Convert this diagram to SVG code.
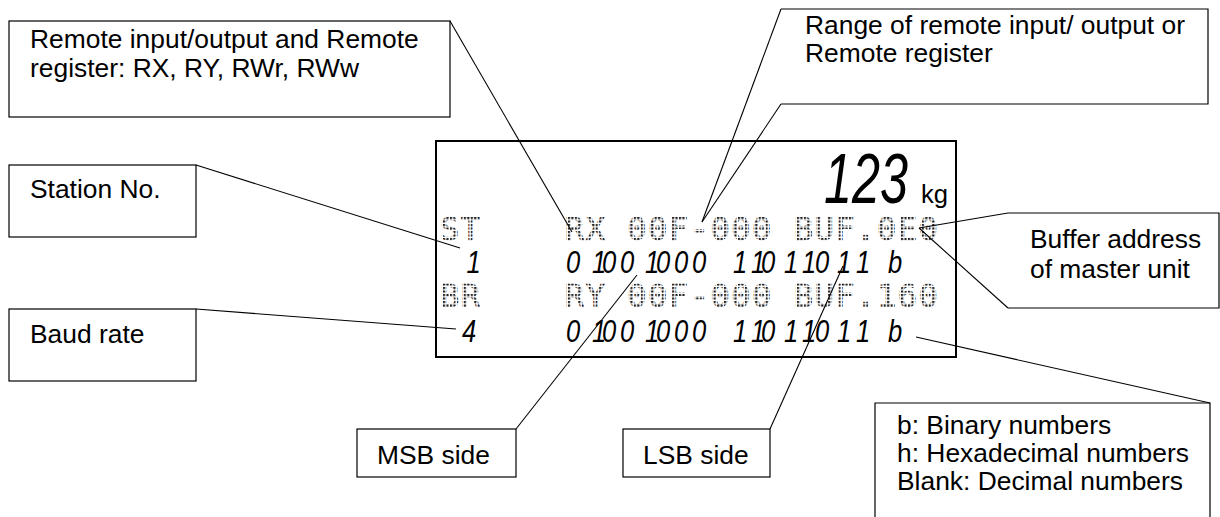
<svg xmlns="http://www.w3.org/2000/svg" width="1220" height="517" viewBox="0 0 1220 517">
<style>
.lbl{font-family:"Liberation Sans",Arial,sans-serif;font-size:26.4px;fill:#000}
.box{fill:none;stroke:#000;stroke-width:1.2}
.con{stroke:#000;stroke-width:1.1;fill:none}
.dm{font-family:"DejaVu Sans Mono",monospace;font-size:32px;letter-spacing:1.54px;fill:url(#dots);stroke:url(#dots);stroke-width:0.9;white-space:pre}
.seg{font-family:"Liberation Sans",Arial,sans-serif;font-style:italic;font-size:32px;fill:#000;white-space:pre}
</style>
<defs>
<pattern id="dots" patternUnits="userSpaceOnUse" x="443" y="217" width="3.47" height="3.5">
<rect width="2.1" height="2.1" fill="#222"/>
</pattern>
</defs>
<rect width="1220" height="517" fill="#fff"/>

<g id="display">
<rect x="436" y="141" width="520" height="216" fill="none" stroke="#000" stroke-width="2"/>
<text class="seg" x="824" y="203" textLength="84" lengthAdjust="spacingAndGlyphs" style="font-size:71px">123</text>
<text class="lbl" x="921" y="203" style="font-size:25.6px">kg</text>
<text class="dm" x="440" y="240">ST    RX 00F-000 BUF.0E0</text>
<text class="dm" x="440" y="307">BR    RY 00F-000 BUF.160</text>
<g transform="scale(0.8,1)">
<text class="seg" x="583" y="273">1</text>
<text class="seg" x="707.5 740 752.5 775 806.25 820 842.5 865 887.5 916.25 938.75 951.25 980 1002.5 1018.75 1046.25 1070 1090 1110" y="273">01001000 11011011 b</text>
<text class="seg" x="577.5" y="342">4</text>
<text class="seg" x="707.5 740 752.5 775 806.25 820 842.5 865 887.5 916.25 938.75 951.25 980 1002.5 1018.75 1046.25 1070 1090 1110" y="342">01001000 11011011 b</text>
</g>
</g>

<g id="remote-io">
<rect class="box" x="9" y="21" width="441" height="96"/>
<text class="lbl" x="30" y="48">Remote input/output and Remote</text>
<text class="lbl" x="30" y="77">register: RX, RY, RWr, RWw</text>
</g>

<g id="range">
<path class="box" d="M781,9 H1208 V104 H781"/>
<text class="lbl" x="805" y="34">Range of remote input/ output or</text>
<text class="lbl" x="805" y="62">Remote register</text>
</g>

<g id="station">
<rect class="box" x="9" y="165" width="187" height="72"/>
<text class="lbl" x="30" y="198">Station No.</text>
</g>

<g id="baud">
<rect class="box" x="9" y="309" width="187" height="72"/>
<text class="lbl" x="30" y="343">Baud rate</text>
</g>

<g id="buffer">
<path class="box" d="M1008,213 H1219 V308 H1008"/>
<text class="lbl" x="1030" y="248">Buffer address</text>
<text class="lbl" x="1030" y="278">of master unit</text>
</g>

<g id="msb">
<rect class="box" x="357" y="429" width="159" height="48"/>
<text class="lbl" x="377" y="464">MSB side</text>
</g>

<g id="lsb">
<rect class="box" x="623" y="429" width="147" height="48"/>
<text class="lbl" x="643" y="464">LSB side</text>
</g>

<g id="number-format">
<path class="box" d="M875,530 V403 H1210 V530"/>
<text class="lbl" x="897" y="434">b: Binary numbers</text>
<text class="lbl" x="897" y="462">h: Hexadecimal numbers</text>
<text class="lbl" x="897" y="490">Blank: Decimal numbers</text>
</g>

<g id="connectors">
<line class="con" x1="450" y1="21" x2="572" y2="232"/>
<line class="con" x1="781" y1="9" x2="702" y2="222"/>
<line class="con" x1="781" y1="104" x2="702" y2="222"/>
<line class="con" x1="196" y1="165" x2="460" y2="248"/>
<line class="con" x1="196" y1="309" x2="456" y2="329"/>
<line class="con" x1="1008" y1="213" x2="919" y2="228"/>
<line class="con" x1="1008" y1="308" x2="919" y2="228"/>
<line class="con" x1="516" y1="429" x2="637" y2="275"/>
<line class="con" x1="770" y1="429" x2="843" y2="266"/>
<line class="con" x1="1210" y1="403" x2="916" y2="337"/>
</g>
</svg>
